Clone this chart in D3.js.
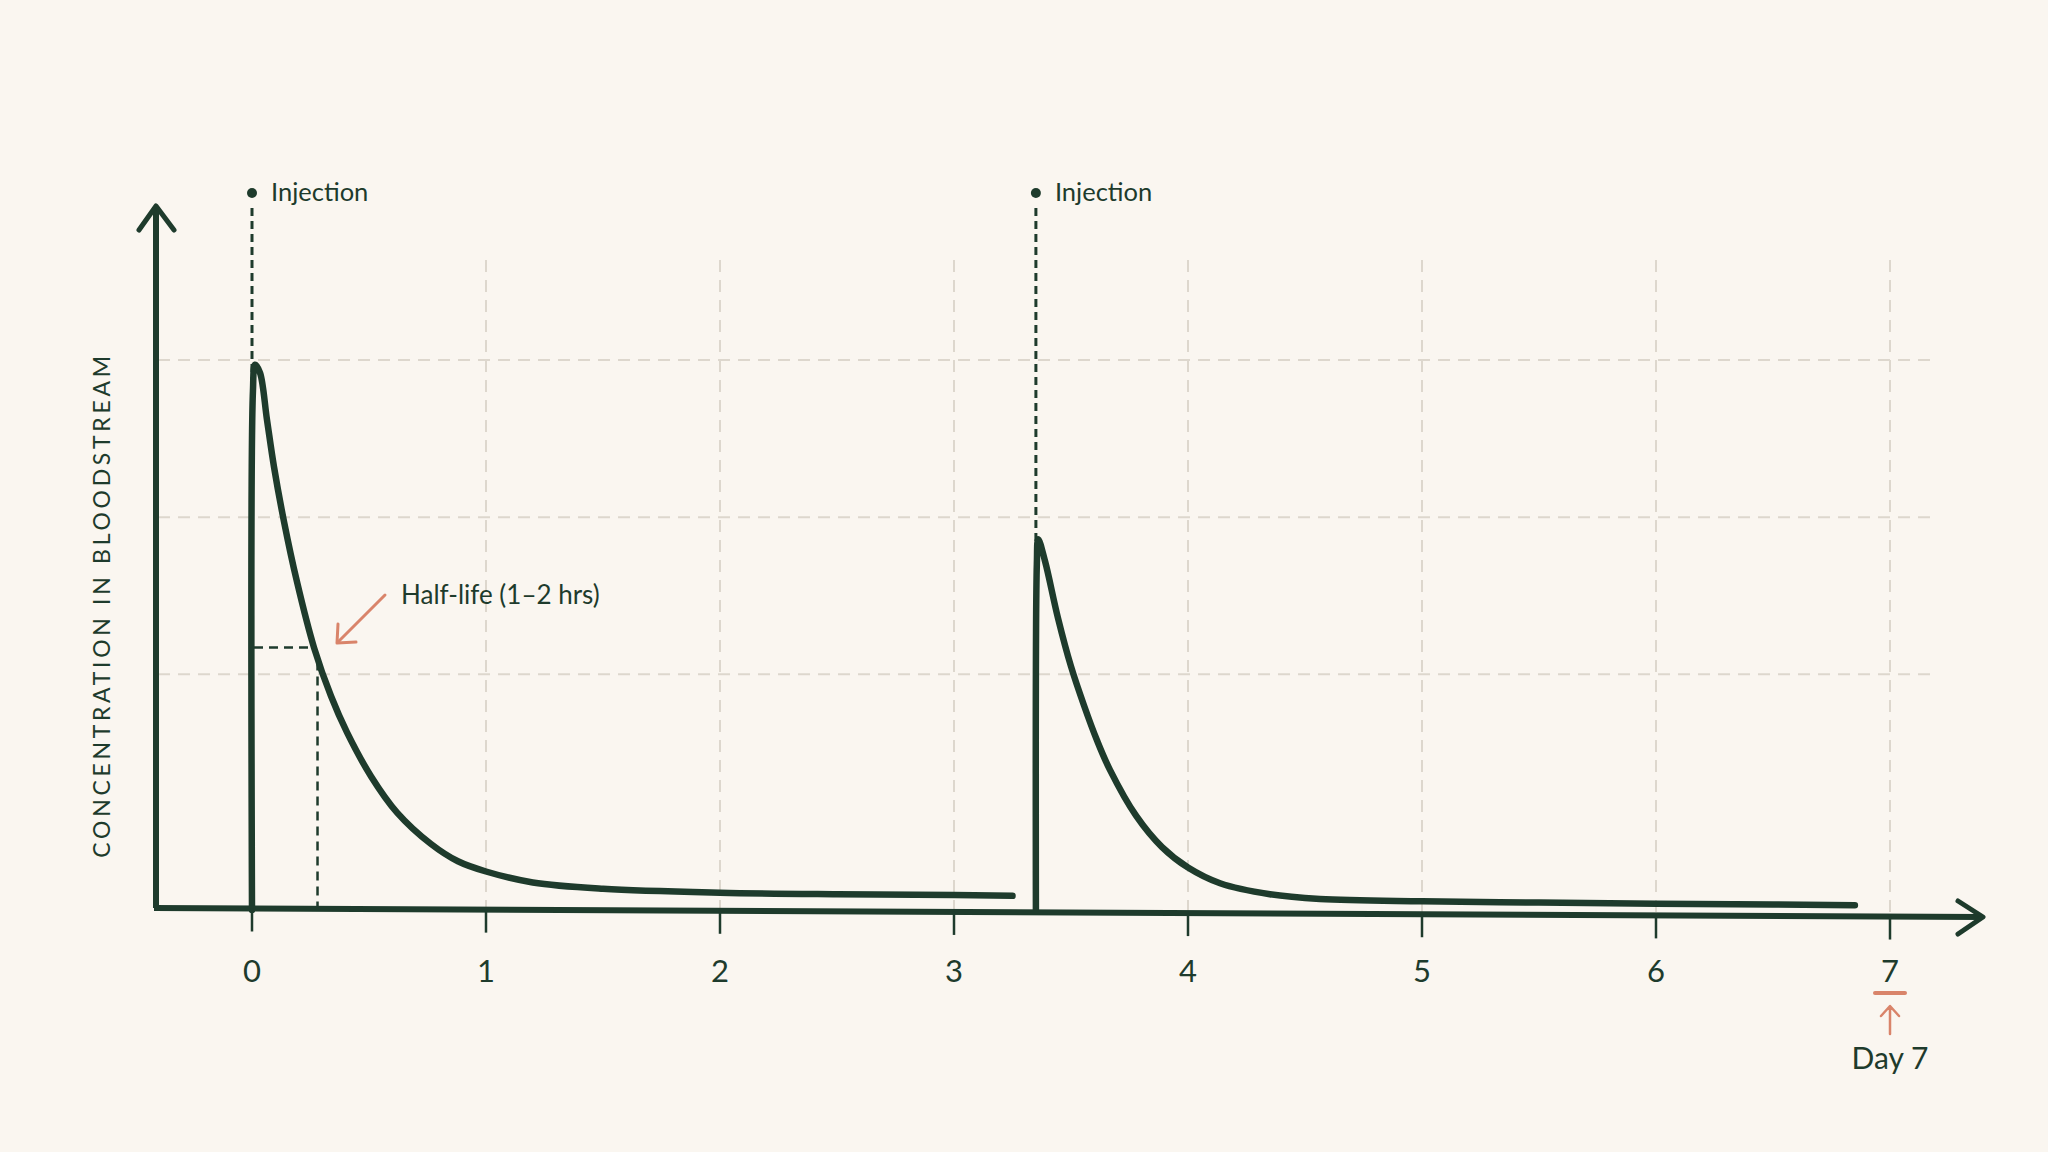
<!DOCTYPE html>
<html>
<head>
<meta charset="utf-8">
<script src="https://cdn.jsdelivr.net/npm/d3@7"></script>
<style>
  html, body { margin: 0; padding: 0; background: #faf6f0; }
  svg { display: block; }
  text { font-family: Lato, "Noto Sans", sans-serif; fill: #1e3b2c; }
</style>
</head>
<body>
<div id="chart"></div>
<script>
// days since first injection
const xTicks = [0, 1, 2, 3, 4, 5, 6, 7];
const gridValues = [1.5, 2.5, 3.5];

// first dose (t in days, relative concentration)
const dose1T = [0, 0.004, 0.013, 0.034, 0.064, 0.094, 0.137, 0.192, 0.265, 0.338, 0.406, 0.509, 0.62, 0.765, 0.88, 1.0, 1.2, 1.5, 2.0, 2.5, 3.0, 3.25];
const dose1V = [0, 3.3, 3.47, 3.42, 3.12, 2.82, 2.47, 2.09, 1.67, 1.36, 1.13, 0.85, 0.62, 0.42, 0.31, 0.245, 0.175, 0.135, 0.11, 0.1, 0.095, 0.09];

// second dose
const dose2T = [3.35, 3.354, 3.36, 3.389, 3.444, 3.5, 3.556, 3.611, 3.667, 3.778, 3.889, 4.0, 4.137, 4.35, 4.564, 5.0, 5.5, 6.0, 6.5, 6.85];
const dose2V = [0, 2.2, 2.36, 2.22, 1.86, 1.55, 1.3, 1.08, 0.89, 0.6, 0.4, 0.27, 0.17, 0.1, 0.07, 0.055, 0.047, 0.04, 0.035, 0.03];

const injections = [0, 3.35];
const halfLifeT = 0.28;
const halfLifeV = 1.67;

const W = 2048, H = 1152;
const ink = '#1e3b2c';
const accent = '#d9846a';
const gridColor = '#ddd7cd';

const svg = d3.select('#chart').append('svg')
  .attr('width', W).attr('height', H);

svg.append('rect').attr('width', W).attr('height', H).attr('fill', '#faf6f0');

const x = d3.scaleLinear().domain([0, 7]).range([252, 1890]);
const y = d3.scaleLinear().domain([0, 3.5]).range([910, 360]);

// the x axis is drawn slightly tilted, like by hand
const axisLeft = 154, axisRight = 1983;
const axisY = (px) => 908 + (px - axisLeft) * 9 / (axisRight - axisLeft);

// grid
svg.append('g')
  .selectAll('line')
  .data(gridValues)
  .join('line')
  .attr('x1', 158).attr('x2', 1937)
  .attr('y1', (d) => y(d)).attr('y2', (d) => y(d))
  .attr('stroke', gridColor).attr('stroke-width', 2)
  .attr('stroke-dasharray', '12 8');

svg.append('g')
  .selectAll('line')
  .data(xTicks.filter((d) => d > 0))
  .join('line')
  .attr('x1', (d) => x(d)).attr('x2', (d) => x(d))
  .attr('y1', 260).attr('y2', (d) => axisY(x(d)))
  .attr('stroke', gridColor).attr('stroke-width', 2)
  .attr('stroke-dasharray', '12 8');

// injection markers
const inj = svg.append('g');
inj.selectAll('line')
  .data(injections)
  .join('line')
  .attr('x1', (d) => x(d)).attr('x2', (d) => x(d))
  .attr('y1', 208).attr('y2', (d) => axisY(x(d)))
  .attr('stroke', ink).attr('stroke-width', 3)
  .attr('stroke-dasharray', '8 5');
inj.selectAll('circle')
  .data(injections)
  .join('circle')
  .attr('cx', (d) => x(d)).attr('cy', 193).attr('r', 5)
  .attr('fill', ink);
inj.selectAll('text')
  .data(injections)
  .join('text')
  .attr('x', (d) => x(d) + 19).attr('y', 201)
  .attr('font-size', 25.5)
  .text('Injection');

// half-life guide
svg.append('path')
  .attr('d', `M${x(0) + 2},${y(halfLifeV)}H${x(halfLifeT) - 4}`)
  .attr('stroke', ink).attr('stroke-width', 2.5).attr('fill', 'none')
  .attr('stroke-dasharray', '9 6');
svg.append('path')
  .attr('d', `M${x(halfLifeT)},${y(halfLifeV) + 14}V${axisY(x(halfLifeT))}`)
  .attr('stroke', ink).attr('stroke-width', 2.5).attr('fill', 'none')
  .attr('stroke-dasharray', '9 6');

// curves
const line = d3.line()
  .x((d) => x(d[0]))
  .y((d) => y(d[1]))
  .curve(d3.curveCatmullRom.alpha(0.5));

[[dose1T, dose1V], [dose2T, dose2V]].forEach(([ts, vs]) => {
  svg.append('path')
    .datum(ts.map((t, i) => [t, vs[i]]))
    .attr('d', line)
    .attr('fill', 'none')
    .attr('stroke', ink)
    .attr('stroke-width', 6.5)
    .attr('stroke-linejoin', 'round')
    .attr('stroke-linecap', 'round');
});

// axes
svg.append('path')
  .attr('d', `M156,${axisY(156)}V207`)
  .attr('stroke', ink).attr('stroke-width', 6).attr('fill', 'none');
svg.append('path')
  .attr('d', 'M139,230L156,206L174,230')
  .attr('stroke', ink).attr('stroke-width', 5).attr('fill', 'none')
  .attr('stroke-linecap', 'round').attr('stroke-linejoin', 'round');

svg.append('path')
  .attr('d', `M${axisLeft},${axisY(axisLeft)}L${axisRight - 2},${axisY(axisRight)}`)
  .attr('stroke', ink).attr('stroke-width', 6).attr('fill', 'none');
svg.append('path')
  .attr('d', `M1958,901L${axisRight},${axisY(axisRight)}L1958,934`)
  .attr('stroke', ink).attr('stroke-width', 5).attr('fill', 'none')
  .attr('stroke-linecap', 'round').attr('stroke-linejoin', 'round');

const ticks = svg.append('g');
ticks.selectAll('line')
  .data(xTicks)
  .join('line')
  .attr('x1', (d) => x(d)).attr('x2', (d) => x(d))
  .attr('y1', (d) => axisY(x(d))).attr('y2', (d) => axisY(x(d)) + 23)
  .attr('stroke', ink).attr('stroke-width', 2.5);
ticks.selectAll('text')
  .data(xTicks)
  .join('text')
  .attr('x', (d) => x(d)).attr('y', 982)
  .attr('text-anchor', 'middle')
  .attr('font-size', 31)
  .text((d) => d);

// y label
svg.append('text')
  .attr('transform', 'translate(110,605) rotate(-90)')
  .attr('text-anchor', 'middle')
  .attr('font-size', 23)
  .attr('letter-spacing', 3.7)
  .text('CONCENTRATION IN BLOODSTREAM');

// half-life annotation
svg.append('path')
  .attr('d', 'M385,595L338,642')
  .attr('stroke', accent).attr('stroke-width', 3).attr('fill', 'none')
  .attr('stroke-linecap', 'round');
svg.append('path')
  .attr('d', 'M338,624L337,643L356,642')
  .attr('stroke', accent).attr('stroke-width', 3).attr('fill', 'none')
  .attr('stroke-linecap', 'round').attr('stroke-linejoin', 'round');
svg.append('text')
  .attr('x', 401).attr('y', 604)
  .attr('font-size', 26)
  .text('Half-life (1\u20132 hrs)');

// day 7 marker
const d7 = x(7);
svg.append('line')
  .attr('x1', d7 - 15).attr('x2', d7 + 15)
  .attr('y1', 993).attr('y2', 993)
  .attr('stroke', accent).attr('stroke-width', 4).attr('stroke-linecap', 'round');
svg.append('path')
  .attr('d', `M${d7},1034V1007M${d7 - 9},1016L${d7},1006L${d7 + 9},1016`)
  .attr('stroke', accent).attr('stroke-width', 2.5).attr('fill', 'none')
  .attr('stroke-linecap', 'round').attr('stroke-linejoin', 'round');
svg.append('text')
  .attr('x', d7).attr('y', 1069)
  .attr('text-anchor', 'middle')
  .attr('font-size', 30)
  .text('Day 7');
</script>
</body>
</html>
